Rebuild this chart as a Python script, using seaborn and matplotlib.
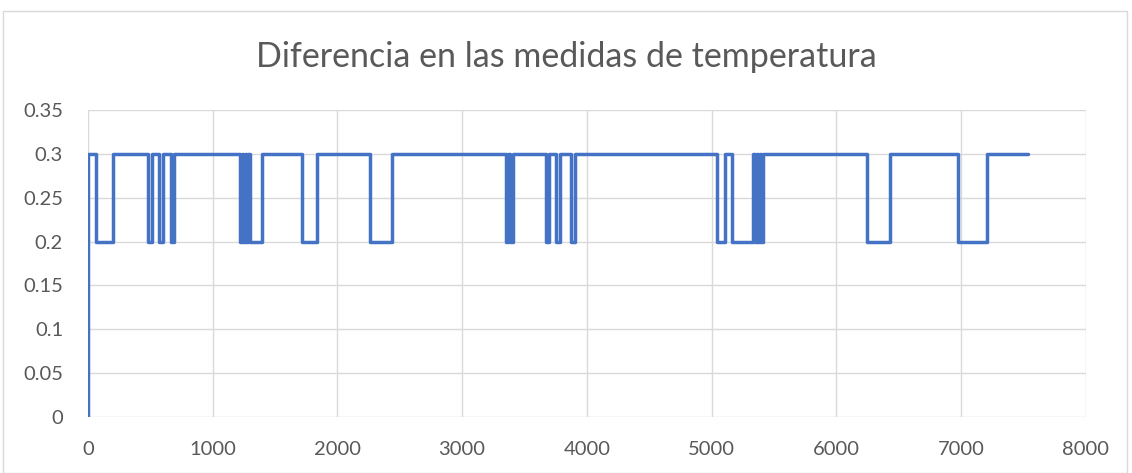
import matplotlib
matplotlib.use("Agg")
import matplotlib.pyplot as plt
import seaborn as sns
import pandas as pd
from matplotlib.patches import Rectangle

# points where the reading changes (x) and the value held from there on
change_x = [0, 2, 64, 203,
            485, 513, 573, 602, 663, 693,
            1219, 1232, 1245, 1258, 1271, 1284, 1297, 1393,
            1713, 1834, 2261, 2435,
            3350, 3372, 3385, 3405,
            3670, 3700, 3756, 3786, 3877, 3907,
            5041, 5108, 5162,
            5335, 5348, 5361, 5374, 5387, 5400, 5413,
            6244, 6431, 6979, 7212, 7541]
change_val = [0.0, 0.3, 0.2, 0.3,
              0.2, 0.3, 0.2, 0.3, 0.2, 0.3,
              0.2, 0.3, 0.2, 0.3, 0.2, 0.3, 0.2, 0.3,
              0.2, 0.3, 0.2, 0.3,
              0.2, 0.3, 0.2, 0.3,
              0.2, 0.3, 0.2, 0.3, 0.2, 0.3,
              0.2, 0.3, 0.2,
              0.3, 0.2, 0.3, 0.2, 0.3, 0.2, 0.3,
              0.2, 0.3, 0.2, 0.3, 0.3]

x_ticks = [0, 1000, 2000, 3000, 4000, 5000, 6000, 7000, 8000]
y_ticks = [0, 0.05, 0.1, 0.15, 0.2, 0.25, 0.3, 0.35]
y_labels = ["0", "0.05", "0.1", "0.15", "0.2", "0.25", "0.3", "0.35"]

df = pd.DataFrame({"x": change_x, "diff": change_val})

sns.set_style("white")
plt.rcParams["font.family"] = ["Lato", "DejaVu Sans"]

fig = plt.figure(figsize=(11.32, 4.73), dpi=100)
fig.patches.append(Rectangle((3 / 1132, 0), 1124 / 1132, 1 - 11 / 473,
                             transform=fig.transFigure, fill=False,
                             edgecolor="#D9D9D9", linewidth=1))
ax = fig.add_axes([88 / 1132, 1 - 417 / 473, 997.6 / 1132, 307 / 473])

sns.lineplot(data=df, x="x", y="diff", ax=ax, color="#4472C4",
             linewidth=2.5, drawstyle="steps-post", estimator=None)

ax.set_xlim(0, 8000)
ax.set_ylim(0, 0.35)
ax.set_xticks(x_ticks)
ax.set_yticks(y_ticks)
ax.set_yticklabels(y_labels)
ax.grid(True, color="#D9D9D9", linewidth=1)
ax.set_axisbelow(True)
for s in ax.spines.values():
    s.set_visible(False)
ax.tick_params(length=0, labelsize=14.5, labelcolor="#595959")
ax.tick_params(axis="x", pad=17)
ax.tick_params(axis="y", pad=18)
ax.set_xlabel("")
ax.set_ylabel("")

fig.text(0.5, 1 - 57 / 473, "Diferencia en las medidas de temperatura",
         ha="center", va="center", fontsize=24.5, color="#595959")

fig.savefig("out.png", dpi=100)
